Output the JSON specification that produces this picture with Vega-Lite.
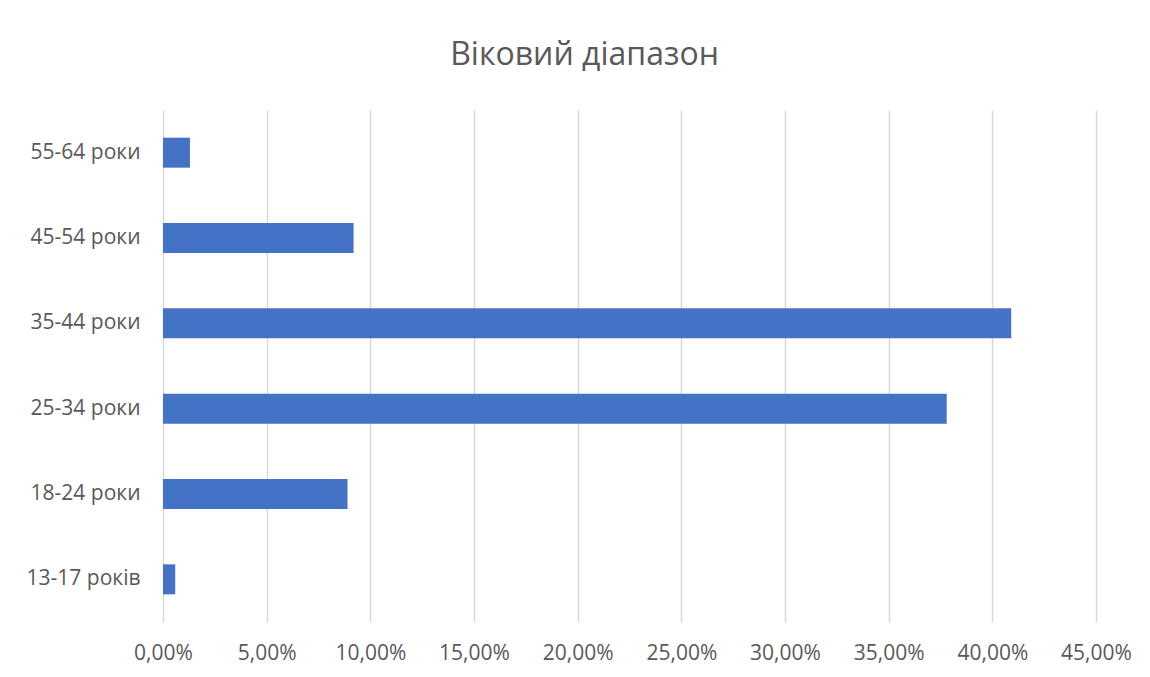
{
  "$schema": "https://vega.github.io/schema/vega-lite/v6.json",
  "autosize": "none",
  "width": 933,
  "height": 512,
  "padding": {"left": 163, "top": 110, "right": 54, "bottom": 55},
  "background": "white",
  "title": {
    "text": "Віковий діапазон",
    "font": "Open Sans",
    "fontSize": 32,
    "fontWeight": "normal",
    "color": "#595959",
    "anchor": "middle",
    "dx": -45,
    "offset": 38
  },
  "data": {
    "values": [
      {"age": "55-64 роки", "share": 0.0130},
      {"age": "45-54 роки", "share": 0.0919},
      {"age": "35-44 роки", "share": 0.4091},
      {"age": "25-34 роки", "share": 0.3780},
      {"age": "18-24 роки", "share": 0.0890},
      {"age": "13-17 років", "share": 0.0059}
    ]
  },
  "mark": {"type": "bar", "color": "#4472C4", "size": 30},
  "encoding": {
    "y": {
      "field": "age",
      "type": "nominal",
      "sort": ["55-64 роки", "45-54 роки", "35-44 роки", "25-34 роки", "18-24 роки", "13-17 років"],
      "title": null,
      "axis": {
        "domain": false,
        "ticks": false,
        "labelPadding": 23,
        "labelFont": "Open Sans",
        "labelFontSize": 21,
        "labelColor": "#595959"
      }
    },
    "x": {
      "field": "share",
      "type": "quantitative",
      "scale": {"domain": [0, 0.45], "nice": false},
      "title": null,
      "axis": {
        "values": [0, 0.05, 0.1, 0.15, 0.2, 0.25, 0.3, 0.35, 0.4, 0.45],
        "labelExpr": "replace(format(datum.value, '.2%'), '.', ',')",
        "labelFlush": false,
        "domain": false,
        "ticks": false,
        "grid": true,
        "gridColor": "#d9d9d9",
        "gridWidth": 1.5,
        "labelPadding": 20,
        "labelFont": "Open Sans",
        "labelFontSize": 21,
        "labelColor": "#595959"
      }
    }
  },
  "config": {"view": {"stroke": null}}
}
